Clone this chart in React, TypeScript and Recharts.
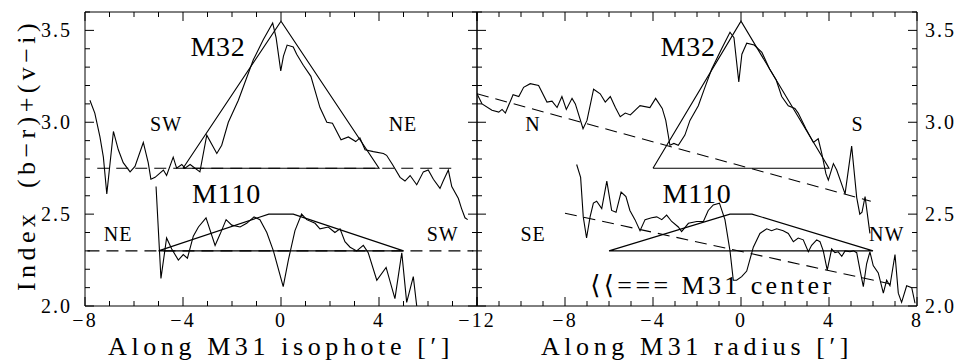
import { ComposedChart, Line, XAxis, YAxis, ReferenceDot } from 'recharts';

// ---- data (x in arcmin, y = colour index) ----
const yTicks = [2.0, 2.1, 2.2, 2.3, 2.4, 2.5, 2.6, 2.7, 2.8, 2.9, 3.0, 3.1, 3.2, 3.3, 3.4, 3.5, 3.6];
const isophoteTicks = [-8, -7, -6, -5, -4, -3, -2, -1, 0, 1, 2, 3, 4, 5, 6, 7, 8];
const radiusTicks = [-12, -11, -10, -9, -8, -7, -6, -5, -4, -3, -2, -1, 0, 1, 2, 3, 4, 5, 6, 7, 8];

// left panel: along the M31 isophote
const isoM32 = [
  [-7.8, 3.12], [-7.6, 3.05], [-7.39, 2.92], [-7.25, 2.81], [-7.11, 2.61], [-6.84, 2.95],
  [-6.64, 2.85], [-6.44, 2.78], [-6.16, 2.73], [-5.96, 2.76], [-5.62, 2.89], [-5.42, 2.78],
  [-5.31, 2.69], [-5.14, 2.7], [-4.8, 2.74], [-4.67, 2.71], [-4.4, 2.81], [-4.26, 2.75],
  [-4.05, 2.77], [-3.92, 2.75], [-3.71, 2.77], [-3.31, 2.73], [-3.03, 2.93], [-2.62, 2.83],
  [-2.42, 2.875], [-2.15, 3.0], [-1.74, 3.12], [-1.13, 3.34], [-0.72, 3.45], [-0.34, 3.54],
  [-0.2, 3.46], [-0.01, 3.28], [0.1, 3.36], [0.25, 3.42], [0.5, 3.41], [0.64, 3.37],
  [0.91, 3.31], [1.22, 3.25], [1.59, 3.08], [1.87, 3.0], [2.1, 2.995], [2.45, 2.905],
  [2.75, 2.92], [3.05, 2.895], [3.22, 2.915], [3.43, 2.85], [3.77, 2.84], [4.18, 2.83],
  [4.31, 2.82], [4.55, 2.77], [4.86, 2.7], [5.06, 2.68], [5.27, 2.71], [5.54, 2.66],
  [5.81, 2.73], [6.01, 2.74], [6.22, 2.69], [6.49, 2.64], [6.62, 2.68], [6.83, 2.74],
  [6.97, 2.65], [7.24, 2.585], [7.37, 2.53], [7.51, 2.48], [7.62, 2.47],
];
const isoM110 = [
  [-5.1, 2.65], [-4.9, 2.15], [-4.67, 2.37], [-4.46, 2.31], [-4.19, 2.25], [-3.99, 2.28],
  [-3.82, 2.26], [-3.58, 2.38], [-3.37, 2.43], [-3.06, 2.48], [-2.69, 2.33], [-2.49, 2.39],
  [-2.24, 2.47], [-2.01, 2.44], [-1.67, 2.43], [-1.4, 2.45], [-1.1, 2.485], [-0.86, 2.47],
  [-0.58, 2.4], [-0.31, 2.3], [0.09, 2.105], [0.3, 2.25], [0.57, 2.41], [0.84, 2.5],
  [1.05, 2.47], [1.39, 2.45], [1.59, 2.42], [1.93, 2.43], [2.2, 2.4], [2.41, 2.42],
  [2.61, 2.35], [2.82, 2.32], [3.09, 2.3], [3.36, 2.33], [3.56, 2.29], [3.91, 2.14],
  [4.29, 2.21], [4.65, 2.04], [4.93, 2.29], [5.13, 2.02], [5.4, 2.16], [5.54, 2.0],
];
const isoM32Model = [[-4, 2.75], [0, 3.55], [4, 2.75], [-4, 2.75]];
const isoM110Model = [[-5, 2.3], [-0.5, 2.5], [0.5, 2.5], [5, 2.3], [-5, 2.3]];
const isoM32Base = [[-7.5, 2.75], [7.2, 2.75]];
const isoM110Base = [[-7.9, 2.3], [7.85, 2.3]];

// right panel: along the M31 radius
const radM32 = [
  [-12, 3.155], [-11.77, 3.1], [-11.32, 3.065], [-11.01, 3.055], [-10.86, 3.07], [-10.71, 3.05],
  [-10.36, 3.15], [-10.1, 3.14], [-9.88, 3.19], [-9.58, 3.21], [-9.2, 3.2], [-8.82, 3.11],
  [-8.59, 3.115], [-8.36, 3.08], [-8.14, 3.14], [-7.94, 3.07], [-7.68, 3.13], [-7.53, 3.1],
  [-7.18, 2.965], [-7.0, 3.01], [-6.7, 3.18], [-6.4, 3.155], [-6.17, 3.11], [-5.94, 3.14],
  [-5.71, 3.08], [-5.49, 3.03], [-5.26, 3.05], [-5.03, 3.04], [-4.59, 3.09], [-4.14, 3.08],
  [-3.88, 3.13], [-3.58, 3.075], [-3.42, 3.01], [-3.23, 2.875], [-3.05, 2.885], [-2.85, 2.875],
  [-2.55, 2.93], [-2.32, 3.01], [-1.94, 3.09], [-1.64, 3.19], [-1.33, 3.29], [-0.88, 3.4],
  [-0.5, 3.49], [-0.32, 3.46], [-0.1, 3.22], [0.04, 3.37], [0.26, 3.43], [0.6, 3.42],
  [0.95, 3.38], [1.3, 3.29], [1.6, 3.23], [1.85, 3.14], [2.15, 3.09], [2.45, 3.075],
  [2.6, 3.05], [2.95, 2.965], [3.29, 2.89], [3.51, 2.91], [3.67, 2.83], [3.86, 2.72],
  [3.97, 2.685], [4.2, 2.775], [4.35, 2.74], [4.73, 2.61], [5.03, 2.87], [5.26, 2.59],
  [5.4, 2.5], [5.5, 2.51], [5.64, 2.595], [5.86, 2.395],
];
const radM110 = [
  [-7.47, 2.77], [-7.29, 2.7], [-7.17, 2.485], [-7.02, 2.37], [-6.86, 2.485], [-6.71, 2.56],
  [-6.56, 2.57], [-6.33, 2.53], [-6.1, 2.68], [-5.88, 2.52], [-5.68, 2.51], [-5.45, 2.62],
  [-5.23, 2.595], [-5.05, 2.52], [-4.82, 2.47], [-4.59, 2.41], [-4.36, 2.47], [-4.06, 2.48],
  [-3.83, 2.485], [-3.6, 2.47], [-3.38, 2.495], [-3.15, 2.46], [-2.85, 2.43], [-2.7, 2.405],
  [-2.39, 2.45], [-2.01, 2.46], [-1.71, 2.46], [-1.49, 2.52], [-1.26, 2.55], [-0.98, 2.56],
  [-0.73, 2.47], [-0.5, 2.3], [-0.35, 2.14], [-0.2, 2.14], [0.03, 2.16], [0.26, 2.19],
  [0.56, 2.32], [0.86, 2.395], [1.17, 2.42], [1.39, 2.41], [1.62, 2.42], [1.92, 2.41],
  [2.15, 2.395], [2.38, 2.35], [2.6, 2.37], [2.83, 2.36], [3.06, 2.295], [3.21, 2.33],
  [3.44, 2.36], [3.59, 2.35], [3.74, 2.3], [3.92, 2.195], [4.12, 2.31], [4.27, 2.29],
  [4.42, 2.295], [4.58, 2.27], [4.73, 2.3], [4.95, 2.295], [5.11, 2.3], [5.26, 2.29],
  [5.41, 2.195], [5.56, 2.105], [5.71, 2.23], [5.86, 2.295], [6.01, 2.22], [6.24, 2.18],
  [6.47, 2.07], [6.62, 2.14], [6.77, 2.11], [7.0, 2.28], [7.15, 2.07], [7.3, 2.02],
  [7.53, 2.11], [7.76, 2.1], [7.91, 2.015],
];
const radM32Model = [[-4, 2.75], [0, 3.55], [4, 2.75], [-4, 2.75]];
const radM110Model = [[-6, 2.3], [-0.5, 2.5], [0.5, 2.5], [6, 2.3], [-6, 2.3]];
const radM32Trend = [[-12, 3.155], [5.9, 2.57]];
const radM110Trend = [[-8, 2.505], [6.8, 2.12]];

type Note = { text: string; x: number; y: number; kind: 'name' | 'dir' | 'note' };
const isoNotes: Note[] = [
  { text: 'M32', x: -2.57, y: 3.41, kind: 'name' },
  { text: 'SW', x: -4.69, y: 2.99, kind: 'dir' },
  { text: 'NE', x: 4.98, y: 2.99, kind: 'dir' },
  { text: 'M110', x: -2.22, y: 2.61, kind: 'name' },
  { text: 'NE', x: -6.65, y: 2.39, kind: 'dir' },
  { text: 'SW', x: 6.6, y: 2.39, kind: 'dir' },
];
const radNotes: Note[] = [
  { text: 'M32', x: -2.4, y: 3.41, kind: 'name' },
  { text: 'N', x: -9.45, y: 2.99, kind: 'dir' },
  { text: 'S', x: 5.3, y: 2.99, kind: 'dir' },
  { text: 'M110', x: -2.0, y: 2.61, kind: 'name' },
  { text: 'SE', x: -9.45, y: 2.39, kind: 'dir' },
  { text: 'NW', x: 6.62, y: 2.39, kind: 'dir' },
  { text: '\u27e8\u27e8=== M31 center', x: -1.3, y: 2.11, kind: 'note' },
];

// ---- drawing ----
const FONT = "'Liberation Serif', 'DejaVu Serif', serif";
const INK = '#000';
const AXIS = { stroke: INK, strokeWidth: 1 };
const noteStyle = {
  name: { fontSize: 28, letterSpacing: 0.8 },
  dir: { fontSize: 20, letterSpacing: 1 },
  note: { fontSize: 26, letterSpacing: 3.4 },
};

const pts = (a: number[][]) => a.map(([x, y]) => ({ x, y }));
const fmtX = (v: number) => (v < 0 ? `\u2212${-v}` : `${v}`);

const xTick = (side: 'top' | 'bottom', labelled: (v: number) => boolean) => (p: any) => {
  const v = p.payload.value as number;
  const major = v % 4 === 0;
  const len = major ? 9 : 5;
  const dir = side === 'bottom' ? -1 : 1;
  return (
    <g>
      <line x1={p.x} x2={p.x} y1={p.y} y2={p.y + dir * len} stroke={INK} />
      {side === 'bottom' && major && labelled(v) && (
        <text x={p.x} y={p.y + 21} textAnchor="middle" style={{ fontFamily: FONT }} fontSize={20} letterSpacing={2} fill={INK}>
          {fmtX(v)}
        </text>
      )}
    </g>
  );
};

const yTick = (side: 'left' | 'right', labelled: boolean) => (p: any) => {
  const v = p.payload.value as number;
  const major = Math.abs(v * 2 - Math.round(v * 2)) < 1e-6;
  const len = major ? 9 : 5;
  const dir = side === 'left' ? 1 : -1;
  return (
    <g>
      <line x1={p.x} x2={p.x + dir * len} y1={p.y} y2={p.y} stroke={INK} />
      {major && labelled && (
        <text
          x={side === 'left' ? p.x - 13 : p.x + 8}
          y={p.y + 7}
          textAnchor={side === 'left' ? 'end' : 'start'}
          style={{ fontFamily: FONT }}
          fontSize={20}
          letterSpacing={2}
          fill={INK}
        >
          {v.toFixed(1)}
        </text>
      )}
    </g>
  );
};

const xTitle = (text: string) => (p: any) => {
  const vb = p.viewBox;
  return (
    <text x={vb.x + vb.width / 2} y={vb.y + 49} textAnchor="middle" style={{ fontFamily: FONT }} fontSize={26} letterSpacing={4.6} fill={INK}>
      {text}
    </text>
  );
};

const yTitle = (text: string) => (p: any) => {
  const vb = p.viewBox;
  const cx = vb.x - 49;
  const cy = vb.y + vb.height / 2 - 4;
  return (
    <text x={cx} y={cy} transform={`rotate(-90, ${cx}, ${cy})`} textAnchor="middle" style={{ fontFamily: FONT }} fontSize={26} letterSpacing={4.4} fill={INK}>
      {text}
    </text>
  );
};

const tag = (n: Note) => (p: any) => (
  <text x={p.cx} y={p.cy} textAnchor="middle" dominantBaseline="central" style={{ fontFamily: FONT }} fill={INK} {...noteStyle[n.kind]}>
    {n.text}
  </text>
);

// axes are 1px thick (a zero-size axis is not drawn at all)
function frame(domain: [number, number], ticks: number[], showX: (v: number) => boolean, labelSide: 'left' | 'right', title: string, ylab?: string) {
  return [
    <XAxis key="xb" xAxisId="b" type="number" dataKey="x" domain={domain} ticks={ticks} interval={0} height={1}
      tickSize={0} tickMargin={0} tickLine={false} axisLine={AXIS} tick={xTick('bottom', showX)} allowDataOverflow label={xTitle(title)} />,
    <XAxis key="xt" xAxisId="t" orientation="top" type="number" dataKey="x" domain={domain} ticks={ticks} interval={0} height={1}
      tickSize={0} tickMargin={0} tickLine={false} axisLine={AXIS} tick={xTick('top', showX)} allowDataOverflow />,
    <YAxis key="yl" yAxisId="l" type="number" domain={[2, 3.6]} ticks={yTicks} interval={0} width={1}
      tickSize={0} tickMargin={0} tickLine={false} axisLine={AXIS} tick={yTick('left', labelSide === 'left')} allowDataOverflow
      label={ylab ? yTitle(ylab) : undefined} />,
    <YAxis key="yr" yAxisId="r" orientation="right" type="number" domain={[2, 3.6]} ticks={yTicks} interval={0} width={1}
      tickSize={0} tickMargin={0} tickLine={false} axisLine={AXIS} tick={yTick('right', labelSide === 'right')} allowDataOverflow />,
  ];
}

function series(key: string, data: number[][], dashed = false) {
  return (
    <Line key={key} xAxisId="b" yAxisId="l" data={pts(data)} dataKey="y" type="linear" stroke={INK} strokeWidth={1.1}
      strokeDasharray={dashed ? '12 7' : undefined} dot={false} activeDot={false} isAnimationActive={false} />
  );
}

function notes(list: Note[]) {
  return list.map((n, i) => (
    <ReferenceDot key={`n${i}`} xAxisId="b" yAxisId="l" x={n.x} y={n.y} r={1} shape={tag(n)} />
  ));
}

export default function App() {
  return (
    <div style={{ position: 'absolute', left: 0, top: 0, width: 961, height: 360, background: '#fff' }}>
      <div style={{ position: 'absolute', left: 0, top: 0 }}>
        <ComposedChart width={961} height={360} margin={{ top: 11, right: 483, bottom: 53, left: 84 }}>
          {frame([-8, 8], isophoteTicks, (v) => v !== 8, 'left', 'Along M31 isophote [\u2032]', 'Index\u00a0\u00a0(b\u2212r)+(v\u2212i)')}
          {series('isoM32Base', isoM32Base, true)}
          {series('isoM110Base', isoM110Base, true)}
          {series('isoM32Model', isoM32Model)}
          {series('isoM110Model', isoM110Model)}
          {series('isoM32', isoM32)}
          {series('isoM110', isoM110)}
          {notes(isoNotes)}
        </ComposedChart>
      </div>
      <div style={{ position: 'absolute', left: 0, top: 0 }}>
        <ComposedChart width={961} height={360} margin={{ top: 11, right: 43, bottom: 53, left: 476 }}>
          {frame([-12, 8], radiusTicks, () => true, 'right', 'Along M31 radius [\u2032]')}
          {series('radM32Trend', radM32Trend, true)}
          {series('radM110Trend', radM110Trend, true)}
          {series('radM32Model', radM32Model)}
          {series('radM110Model', radM110Model)}
          {series('radM32', radM32)}
          {series('radM110', radM110)}
          {notes(radNotes)}
        </ComposedChart>
      </div>
    </div>
  );
}
